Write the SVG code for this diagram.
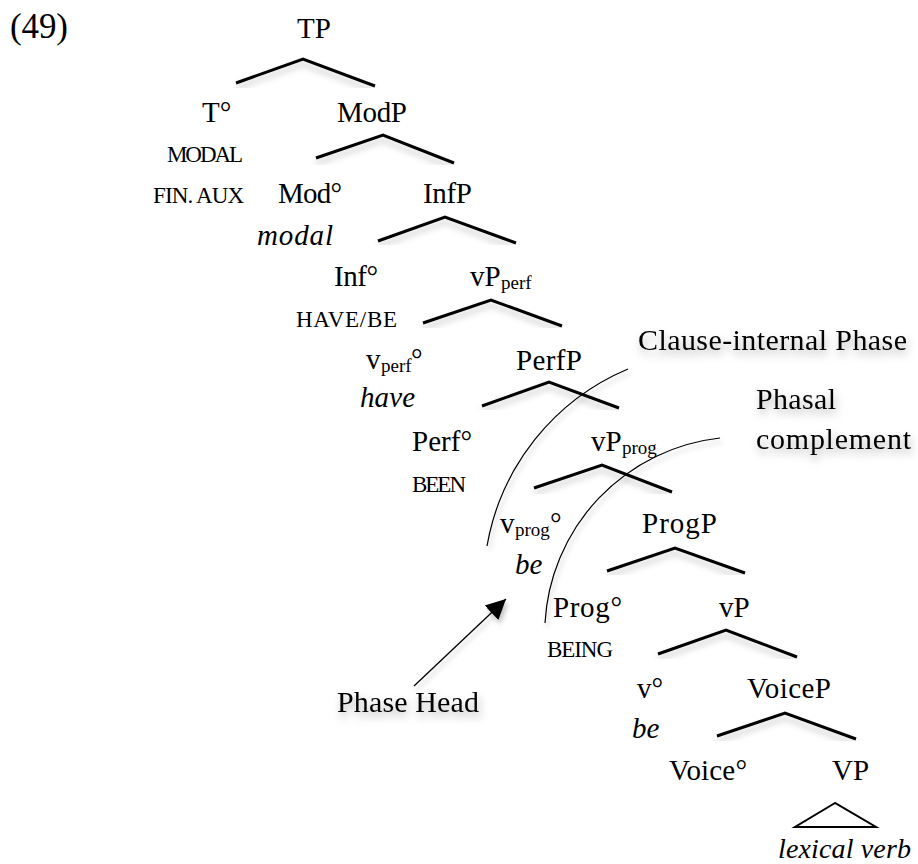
<svg xmlns="http://www.w3.org/2000/svg" width="918" height="864" viewBox="0 0 918 864">
<style>
text{font-family:"Liberation Serif","DejaVu Serif",serif;font-size:29px;fill:#000}
.sc{font-size:23px}
.it{font-style:italic}
.sub{font-size:19px}
.big{font-size:35px}
.nt{font-size:30px}
.lv{font-size:28px}
.roof{fill:none;stroke:#000;stroke-width:3;stroke-linejoin:miter;filter:url(#rs)}
.tri{fill:none;stroke:#000;stroke-width:2}
.arc{fill:none;stroke:#000;stroke-width:1.2;filter:url(#as)}
.note{filter:url(#ts)}
</style>
<defs>
<filter id="rs" x="-5%" y="-25%" width="110%" height="132%">
<feGaussianBlur in="SourceAlpha" stdDeviation="3"/>
<feOffset dy="5" result="b"/>
<feFlood flood-color="#000" flood-opacity="0.22"/>
<feComposite in2="b" operator="in"/>
<feMerge><feMergeNode/><feMergeNode in="SourceGraphic"/></feMerge>
</filter>
<filter id="ts" x="-20%" y="-40%" width="140%" height="190%">
<feGaussianBlur in="SourceAlpha" stdDeviation="4"/>
<feOffset dx="2" dy="5" result="b"/>
<feFlood flood-color="#000" flood-opacity="0.3"/>
<feComposite in2="b" operator="in"/>
<feMerge><feMergeNode/><feMergeNode in="SourceGraphic"/></feMerge>
</filter>
<filter id="as" x="-20%" y="-20%" width="140%" height="140%">
<feGaussianBlur in="SourceAlpha" stdDeviation="2.5"/>
<feOffset dx="2" dy="4" result="b"/>
<feFlood flood-color="#000" flood-opacity="0.25"/>
<feComposite in2="b" operator="in"/>
<feMerge><feMergeNode/><feMergeNode in="SourceGraphic"/></feMerge>
</filter>
<marker id="ah" markerUnits="userSpaceOnUse" markerWidth="22" markerHeight="22" refX="20" refY="10" orient="auto" viewBox="0 0 22 20">
<path d="M0,0 L20,10 L0,20 z" fill="#000"/>
</marker>
</defs>

<text class="big" x="10" y="38" textLength="58">(49)</text>

<g id="connectors">
<polyline class="roof" points="236,83 303,59 375,86"/>
<polyline class="roof" points="316,158 383,135 454,163"/>
<polyline class="roof" points="378,241 445,217 516,243"/>
<polyline class="roof" points="423,323 491,300 562,326"/>
<polyline class="roof" points="482,406 549,382 619,408"/>
<polyline class="roof" points="534,488 602,465 672,492"/>
<polyline class="roof" points="607,571 675,548 745,573"/>
<polyline class="roof" points="658,654 726,630 797,657"/>
<polyline class="roof" points="717,736 785,713 856,739"/>
<polygon class="tri" points="835,803 795,827 876,827"/>
<path class="arc" d="M628,369 A236,236 0 0 0 487,546"/>
<path class="arc" d="M720,438 A197,197 0 0 0 545,623"/>
<line x1="414" y1="686" x2="506" y2="599" stroke="#000" stroke-width="1.3" marker-end="url(#ah)" filter="url(#as)"/>
</g>

<g id="TP"><text x="297" y="38">TP</text></g>
<g id="T"><text x="202" y="122">T°</text>
<text class="sc" x="167" y="162" textLength="76">MODAL</text>
<text class="sc" x="153" y="203" textLength="91">FIN. AUX</text></g>
<g id="ModP"><text x="337" y="122" textLength="70">ModP</text></g>
<g id="Mod"><text x="278" y="203" textLength="64">Mod°</text>
<text class="it" x="257" y="245" textLength="76">modal</text></g>
<g id="InfP"><text x="423" y="203" textLength="49">InfP</text></g>
<g id="Inf"><text x="334" y="286" textLength="44">Inf°</text>
<text class="sc" x="296" y="327" textLength="101">HAVE/BE</text></g>
<g id="vPperf"><text x="470" y="286">vP<tspan class="sub" x="501" y="289">perf</tspan></text></g>
<g id="vperf"><text x="366" y="369">v<tspan class="sub" x="381" y="372">perf</tspan><tspan x="411" y="369">°</tspan></text>
<text class="it" x="360" y="407" textLength="55">have</text></g>
<g id="PerfP"><text x="516" y="370" textLength="66">PerfP</text></g>
<g id="Perf"><text x="412" y="451" textLength="60">Perf°</text>
<text class="sc" x="412" y="492" textLength="54">BEEN</text></g>
<g id="vPprog"><text x="591" y="451">vP<tspan class="sub" x="622" y="454">prog</tspan></text></g>
<g id="vprog"><text x="500" y="533">v<tspan class="sub" x="515" y="536">prog</tspan><tspan x="550" y="533">°</tspan></text>
<text class="it" x="515" y="574">be</text></g>
<g id="ProgP"><text x="642" y="533" textLength="75">ProgP</text></g>
<g id="Prog"><text x="553" y="617" textLength="69">Prog°</text>
<text class="sc" x="547" y="657" textLength="66">BEING</text></g>
<g id="vP"><text x="719" y="617">vP</text></g>
<g id="v"><text x="637" y="698">v°</text>
<text class="it" x="632" y="738">be</text></g>
<g id="VoiceP"><text x="747" y="698" textLength="84">VoiceP</text></g>
<g id="Voice"><text x="669" y="780" textLength="78">Voice°</text></g>
<g id="VP"><text x="832" y="780">VP</text>
<text class="it lv" x="778" y="858" textLength="133">lexical verb</text></g>

<g id="PhaseHead" class="note"><text class="nt" x="337" y="712" textLength="142">Phase Head</text></g>
<g id="ClauseInternalPhase" class="note"><text class="nt" x="638" y="350" textLength="269">Clause-internal Phase</text></g>
<g id="PhasalComplement" class="note"><text class="nt" x="756" y="409" textLength="80">Phasal</text>
<text class="nt" x="756" y="449" textLength="155">complement</text></g>
</svg>
